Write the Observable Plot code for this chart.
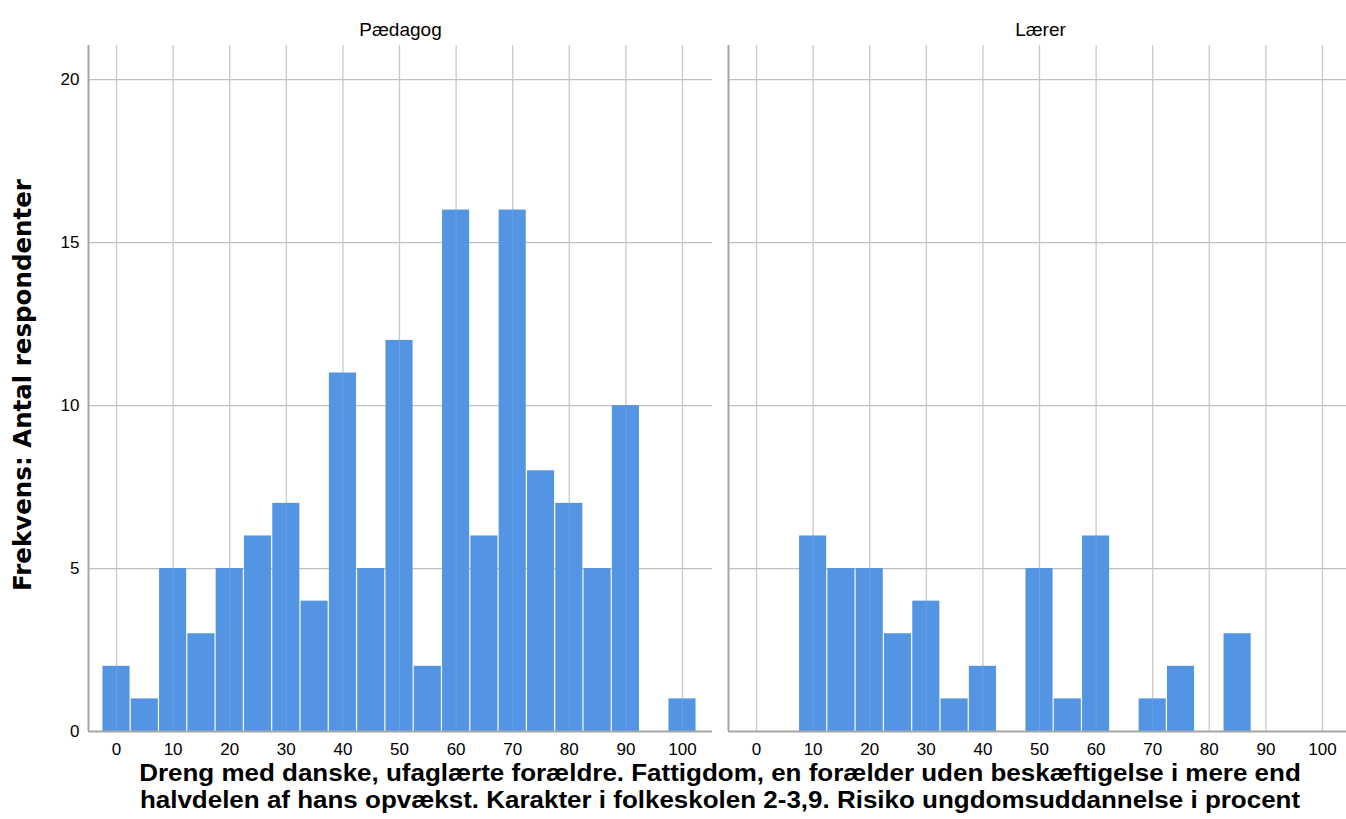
<!DOCTYPE html>
<html>
<head>
<meta charset="utf-8">
<script src="https://cdn.jsdelivr.net/npm/d3@7"></script>
<script src="https://cdn.jsdelivr.net/npm/@observablehq/plot@0.6"></script>
<style>
  html, body { margin: 0; padding: 0; background: #fff; overflow: hidden; }
  #wrap { position: relative; width: 1346px; height: 819px; overflow: hidden; }
  #chart svg { max-width: none !important; }
  #ytitle {
    position: absolute; left: 22px; top: 385px;
    transform: translate(-50%, -50%) rotate(-90deg);
    white-space: nowrap;
    font-family: "DejaVu Sans", sans-serif; font-weight: bold; font-size: 24.5px; color: #000;
  }
  #xtitle {
    position: absolute; left: 0; width: 1440px; top: 760px; text-align: center;
    font-family: "Liberation Sans", Arial, sans-serif; font-weight: bold; font-size: 23.5px;
    line-height: 26.5px; color: #000; white-space: nowrap;
    transform: scaleX(1.105); transform-origin: 720px 0;
  }
</style>
</head>
<body>
<div id="wrap">
  <div id="chart"></div>
  <div id="ytitle">Frekvens: Antal respondenter</div>
  <div id="xtitle">Dreng med danske, ufaglærte forældre. Fattigdom, en forælder uden beskæftigelse i mere end<br>halvdelen af hans opvækst. Karakter i folkeskolen 2-3,9. Risiko ungdomsuddannelse i procent</div>
</div>
<script>
const groups = ["Pædagog", "Lærer"];
const bins = [0, 5, 10, 15, 20, 25, 30, 35, 40, 45, 50, 55, 60, 65, 70, 75, 80, 85, 90, 95, 100];
const paedagog = [2, 1, 5, 3, 5, 6, 7, 4, 11, 5, 12, 2, 16, 6, 16, 8, 7, 5, 10, 0, 1];
const laerer   = [0, 0, 6, 5, 5, 3, 4, 1, 2, 0, 5, 1, 6, 0, 1, 2, 0, 3, 0, 0, 0];
const xTicks = [0, 10, 20, 30, 40, 50, 60, 70, 80, 90, 100];
const yTicks = [0, 5, 10, 15, 20];

const rows = [];
bins.forEach((b, i) => {
  rows.push({group: groups[0], bin: b, count: paedagog[i]});
  rows.push({group: groups[1], bin: b, count: laerer[i]});
});
const data = rows.filter(d => d.count > 0);

const chart = Plot.plot({
  width: 1352,
  height: 760,
  marginLeft: 88,
  marginRight: 0,
  marginTop: 45,
  marginBottom: 29,
  style: {fontFamily: "Liberation Sans, Arial, sans-serif", background: "#fff", color: "#000", maxWidth: "none"},
  fx: {domain: groups, padding: 0.025, label: null},
  x: {domain: [-4.95, 105.3]},
  y: {domain: [0, 21.05]},
  marks: [
    Plot.gridX(xTicks, {stroke: "#c0c0c0", strokeOpacity: 1, strokeWidth: 1.2}),
    Plot.gridY(yTicks, {stroke: "#c0c0c0", strokeOpacity: 1, strokeWidth: 1.2}),
    Plot.rectY(data, {
      fx: "group",
      x1: d => d.bin - 2.5,
      x2: d => d.bin + 2.5,
      y1: 0,
      y2: "count",
      fill: "#5394e3",
      insetLeft: 0.6,
      insetRight: 0.6
    }),
    Plot.gridX(xTicks, {stroke: "#ffffff", strokeOpacity: 0.12, strokeWidth: 1}),
    Plot.ruleY([0], {stroke: "#a6a6a6", strokeWidth: 2}),
    Plot.ruleX([-4.95], {stroke: "#a6a6a6", strokeWidth: 2}),
    Plot.axisX(xTicks, {tickSize: 0, tickPadding: 11, fontSize: 17, label: null}),
    Plot.axisY(yTicks, {tickSize: 0, tickPadding: 9, fontSize: 17, label: null}),
    Plot.axisFx({anchor: "top", tickSize: 0, tickPadding: 10, fontSize: 19, label: null})
  ]
});
document.getElementById("chart").appendChild(chart);
</script>
</body>
</html>
